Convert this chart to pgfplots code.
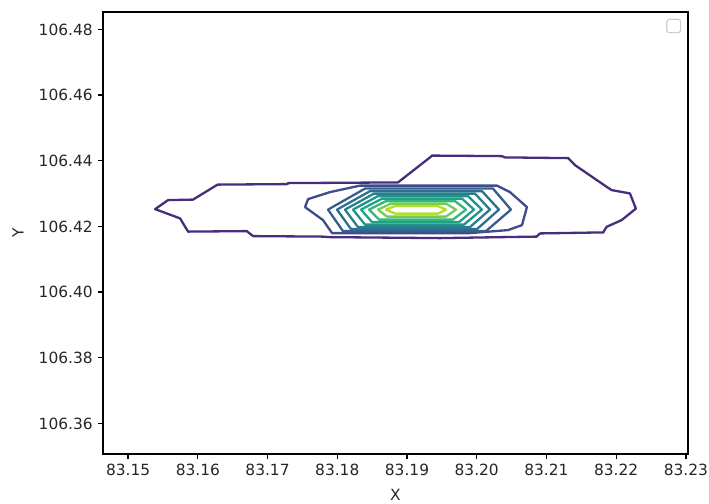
\documentclass[border=0pt]{standalone}
\usepackage{fontspec}
\setmainfont{DejaVu Sans}
\usepackage{pgfplots}
\pgfplotsset{compat=1.18}
\definecolor{c1}{HTML}{472D7B}
\definecolor{c2}{HTML}{3E4C8A}
\definecolor{c3}{HTML}{365D8D}
\definecolor{c4}{HTML}{2E6E8E}
\definecolor{c5}{HTML}{277F8E}
\definecolor{c6}{HTML}{21918C}
\definecolor{c7}{HTML}{1FA088}
\definecolor{c8}{HTML}{35B779}
\definecolor{c9}{HTML}{6ECE58}
\definecolor{c10}{HTML}{B5DE2B}
\begin{document}
\begin{tikzpicture}
\begin{axis}[
  scale only axis,
  width=421.2pt, height=318.24pt,
  xmin=83.1464, xmax=83.2303,
  ymin=106.3507, ymax=106.4853,
  xtick={83.15,83.16,83.17,83.18,83.19,83.20,83.21,83.22,83.23},
  ytick={106.36,106.38,106.40,106.42,106.44,106.46,106.48},
  scaled ticks=false,
  xticklabel style={/pgf/number format/.cd,fixed,fixed zerofill,precision=2,assume math mode=true},
  yticklabel style={/pgf/number format/.cd,fixed,fixed zerofill,precision=2,assume math mode=true},
  tick pos=left,
  tick align=outside,
  major tick length=3.9pt,
  every tick/.style={black, line width=0.89pt},
  axis line style={line width=0.89pt},
  every tick label/.append style={font=\fontsize{11.1}{13}\selectfont, text=black!85},
  xlabel={X}, ylabel={Y},
  every axis label/.append style={font=\fontsize{11.1}{13}\selectfont, text=black!85},
  xlabel style={yshift=-3pt},
  ylabel style={yshift=4pt},
  no markers,
  every axis plot/.append style={line width=1.66pt, line join=round, line cap=round},
]
% outer level
\addplot[c1] coordinates {
(83.15387,106.42527) (83.15573,106.42801) (83.15932,106.42817) (83.16283,106.43273)
(83.17280,106.43289) (83.17294,106.43319) (83.18871,106.43340) (83.19330,106.44102)
(83.19358,106.44157) (83.20358,106.44141) (83.20405,106.44102) (83.21313,106.44080)
(83.21409,106.43867) (83.21863,106.43206) (83.21935,106.43106) (83.22197,106.43005)
(83.22283,106.42542) (83.22078,106.42192) (83.21863,106.41988) (83.21814,106.41818)
(83.20907,106.41787) (83.20860,106.41690) (83.19473,106.41644) (83.17896,106.41674)
(83.17781,106.41690) (83.16792,106.41705) (83.16702,106.41857) (83.15860,106.41842)
(83.15746,106.42244) (83.15387,106.42527)
};
% ring 2
\addplot[c2] coordinates {
(83.17538,106.42588) (83.17581,106.42832) (83.17896,106.43045) (83.18326,106.43243)
(83.20290,106.43243) (83.20477,106.43045) (83.20720,106.42588) (83.20649,106.42040)
(83.20448,106.41888) (83.19903,106.41796) (83.17925,106.41796) (83.17796,106.42192)
(83.17538,106.42588)
};
% ring 3
\addplot[c3] coordinates {
(83.17867,106.42512) (83.18398,106.43152) (83.20233,106.43152) (83.20491,106.42512)
(83.20133,106.41857) (83.18082,106.41857) (83.17867,106.42512)
};
% ring 4
\addplot[c4] coordinates {
(83.17996,106.42512) (83.18470,106.43075) (83.20075,106.43075) (83.20319,106.42512)
(83.20004,106.41918) (83.18197,106.41918) (83.17996,106.42512)
};
% ring 5
\addplot[c5] coordinates {
(83.18111,106.42512) (83.18527,106.42999) (83.19975,106.42999) (83.20190,106.42512)
(83.19903,106.41979) (83.18297,106.41979) (83.18111,106.42512)
};
% ring 6
\addplot[c6] coordinates {
(83.18226,106.42512) (83.18584,106.42923) (83.19875,106.42923) (83.20075,106.42512)
(83.19817,106.42055) (83.18398,106.42055) (83.18226,106.42512)
};
% ring 7
\addplot[c7] coordinates {
(83.18341,106.42512) (83.18642,106.42847) (83.19789,106.42847) (83.19961,106.42512)
(83.19746,106.42131) (83.18498,106.42131) (83.18341,106.42512)
};
% ring 8
\addplot[c8] coordinates {
(83.18455,106.42512) (83.18699,106.42771) (83.19688,106.42771) (83.19846,106.42512)
(83.19659,106.42207) (83.18599,106.42207) (83.18455,106.42512)
};
% ring 9
\addplot[c9] coordinates {
(83.18584,106.42512) (83.18771,106.42695) (83.19559,106.42695) (83.19703,106.42512)
(83.19559,106.42299) (83.18713,106.42299) (83.18584,106.42512)
};
% ring 10
\addplot[c10] coordinates {
(83.18699,106.42512) (83.18828,106.42619) (83.19444,106.42619) (83.19559,106.42512)
(83.19444,106.42390) (83.18828,106.42390) (83.18699,106.42512)
};
% empty legend frame
\draw[black!20, line width=0.8pt, rounded corners=2pt, fill=white, fill opacity=0.8]
  (rel axis cs:0.9636,0.9532) rectangle (rel axis cs:0.9875,0.9835);
\end{axis}
\pgfresetboundingbox
\path[use as bounding box] ([shift={(-74.16pt,-36pt)}]current axis.south west) rectangle ([shift={(15.12pt,8.64pt)}]current axis.north east);
\end{tikzpicture}
\end{document}
